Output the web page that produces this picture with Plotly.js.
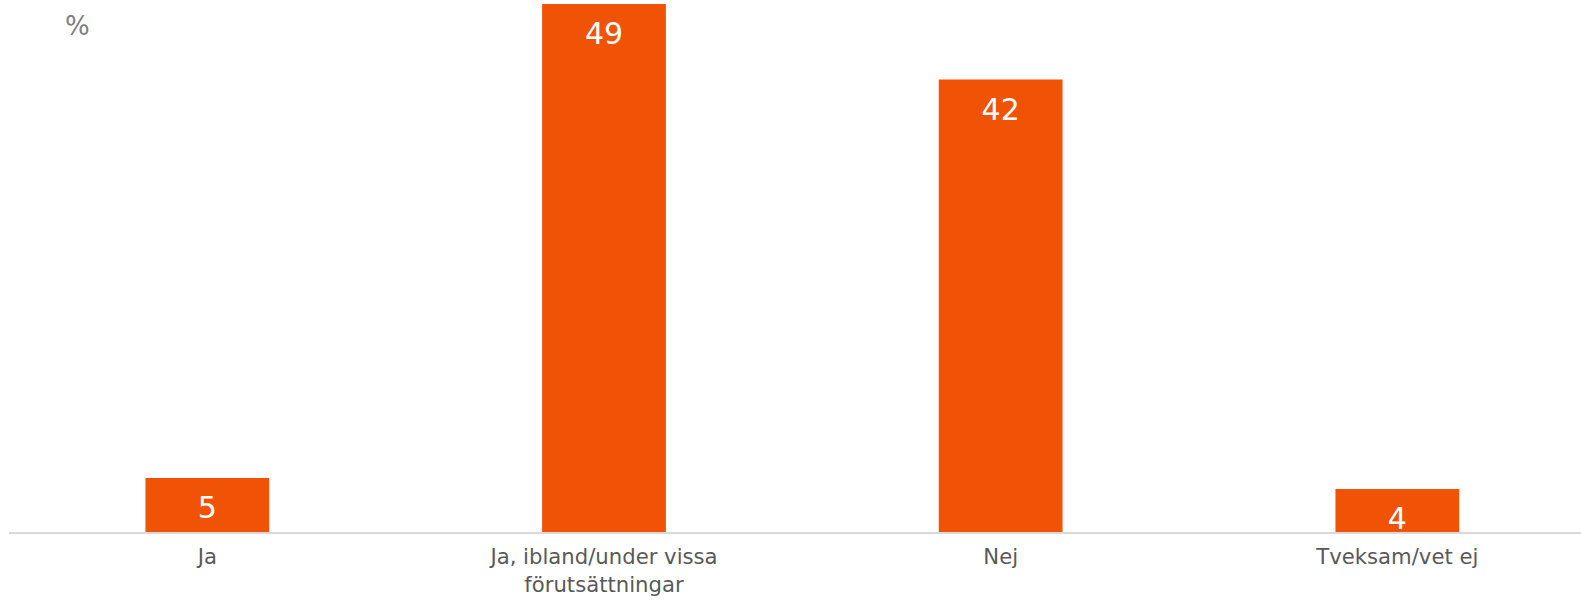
<!DOCTYPE html>
<html>
<head>
<meta charset="utf-8">
<script src="https://cdn.plot.ly/plotly-3.0.1.min.js"></script>
<style>html,body{margin:0;padding:0;background:#fff;}#chart{width:1581px;height:600px;}</style>
</head>
<body>
<div id="chart"></div>
<script>
const categories = ["Ja", "Ja, ibland/under vissa<br>förutsättningar", "Nej", "Tveksam/vet ej"];
const values = [5, 49, 42, 4];
const unitLabel = "%";

const barColor = "#F05206";
const fontFam = "Verdana, 'DejaVu Sans', sans-serif";
const idx = categories.map((c, i) => i);

const bars = {
  type: "bar",
  x: idx,
  y: values,
  width: 0.312,
  marker: {color: barColor, line: {width: 0}},
  hoverinfo: "none",
  showlegend: false
};

const labels = {
  type: "scatter",
  mode: "markers+text",
  x: idx,
  y: values,
  text: values.map(String),
  textposition: "bottom center",
  textfont: {family: fontFam, size: 30, color: "#ffffff"},
  marker: {size: 27, opacity: 0},
  hoverinfo: "none",
  showlegend: false,
  cliponaxis: false
};

const layout = {
  width: 1581,
  height: 600,
  margin: {l: 9, r: 0, t: 4, b: 68},
  paper_bgcolor: "#ffffff",
  plot_bgcolor: "#ffffff",
  font: {family: fontFam, color: "#595959"},
  xaxis: {
    range: [-0.5, 3.463],
    tickmode: "array",
    tickvals: idx,
    ticktext: categories,
    tickfont: {family: fontFam, size: 21.2, color: "#595959"},
    ticks: "outside",
    ticklen: 5,
    tickcolor: "rgba(0,0,0,0)",
    showline: true,
    linecolor: "#d9d9d9",
    linewidth: 2,
    showgrid: false,
    zeroline: false,
    fixedrange: true
  },
  yaxis: {
    range: [0, 49],
    showticklabels: false,
    showgrid: false,
    zeroline: false,
    showline: false,
    ticks: "",
    fixedrange: true
  },
  annotations: [{
    text: unitLabel,
    xref: "paper", yref: "paper",
    x: 0.0345, y: 1,
    xanchor: "left", yanchor: "top",
    yshift: -5,
    showarrow: false,
    font: {family: fontFam, size: 26, color: "#7f7f7f"}
  }]
};

Plotly.newPlot("chart", [bars, labels], layout, {staticPlot: true, displayModeBar: false});
</script>
</body>
</html>
